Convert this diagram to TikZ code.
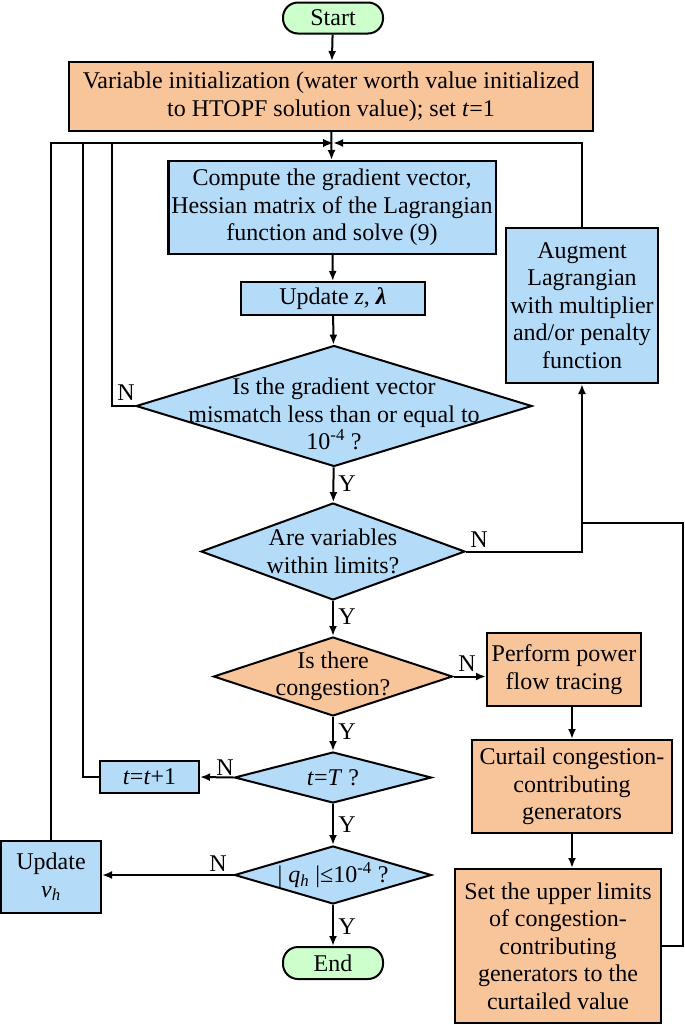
\documentclass[tikz,border=0pt]{standalone}
\usepackage{fontspec}
\setmainfont{Liberation Serif}
\usetikzlibrary{arrows.meta,shapes.geometric}
\definecolor{initorange}{RGB}{248,196,154}
\definecolor{stepblue}{RGB}{180,220,248}
\definecolor{termgreen}{RGB}{204,255,204}
\tikzset{
  every node/.style={font=\fontsize{24bp}{27.5bp}\selectfont},
  proc/.style={draw, line width=2bp, fill=stepblue, align=center, inner sep=0pt},
  term/.style={draw, line width=2bp, fill=termgreen, rounded corners=15bp, inner sep=0pt},
  decide/.style={diamond, draw, line width=2bp, fill=stepblue, inner sep=0pt},
  flow/.style={line width=2bp, -{Latex[length=10bp,width=8bp]}},
  wire/.style={line width=2bp},
  yn/.style={inner sep=0pt}
}
\begin{document}
\begin{tikzpicture}[x=1bp, y=-1bp]
\useasboundingbox (0,0) rectangle (685,1025);
% main column
\node[term, minimum width=100bp, minimum height=31bp] (start) at (333,18) {Start};
\node[proc, fill=initorange, minimum width=524bp, minimum height=69bp] (init) at (331,96.5)
  {Variable initialization (water worth value initialized\\to HTOPF solution value); set \textit{t}=1};
\node[proc, minimum width=327bp, minimum height=93bp] (compute) at (332,207.5)
  {Compute the gradient vector,\\Hessian matrix of the Lagrangian\\function and solve (9)};
\node[proc, minimum width=184bp, minimum height=33bp] (updz) at (333,298.5) {Update \textit{z}, \textbf{\textit{λ}}};
\node[decide, minimum width=396bp, minimum height=121bp,
  label={[align=center, yshift=-8bp]center:Is the gradient vector\\mismatch less than or equal to\\10\textsuperscript{-4} ?}] (gradchk) at (334,406) {};
\node[decide, minimum width=264bp, minimum height=97bp,
  label={[align=center]center:Are variables\\within limits?}] (limchk) at (333,551.5) {};
\node[decide, fill=initorange, minimum width=239bp, minimum height=79bp,
  label={[align=center]center:Is there\\congestion?}] (congchk) at (333,676.5) {};
\node[decide, minimum width=197bp, minimum height=51bp,
  label={center:\textit{t}=\textit{T} ?}] (tchk) at (333,777.5) {};
\node[decide, minimum width=197bp, minimum height=58bp,
  label={center:| \textit{q}\textsubscript{\textit{h}} |≤10\textsuperscript{-4} ?}] (qchk) at (333,875) {};
\node[term, minimum width=100bp, minimum height=32bp] (endn) at (333,963) {End};
% side boxes
\node[proc, minimum width=152bp, minimum height=155bp] (augment) at (582,305.5)
  {Augment\\Lagrangian\\with multiplier\\and/or penalty\\function};
\node[proc, fill=initorange, minimum width=154bp, minimum height=73bp] (perform) at (564,669.5)
  {Perform power\\flow tracing};
\node[proc, fill=initorange, minimum width=200bp, minimum height=93bp] (curtail) at (572,786.5)
  {Curtail congestion-\\contributing\\generators};
\node[proc, fill=initorange, minimum width=206bp, minimum height=154bp] (setlim) at (558,946)
  {Set the upper limits\\of congestion-\\contributing\\generators to the\\curtailed value};
\node[proc, minimum width=99bp, minimum height=32bp] (tinc) at (149.5,777) {\textit{t}=\textit{t}+1};
\node[proc, minimum width=100bp, minimum height=72bp] (updv) at (51,877)
  {Update\\\textit{v}\textsubscript{\textit{h}}};
% joints
\coordinate (join) at (333,143);
\coordinate (loopa) at (112,143);
\coordinate (loopb) at (83,143);
\coordinate (rtop) at (683,523);
\coordinate (rjoin) at (582,523);
% main flow
\draw[flow] (start) -- (init);
\draw[flow] (init) -- (compute);
\draw[flow] (compute) -- (updz);
\draw[flow] (updz) -- (gradchk);
\draw[flow] (gradchk) -- (limchk);
\draw[flow] (limchk) -- (congchk);
\draw[flow] (congchk) -- (tchk);
\draw[flow] (tchk) -- (qchk);
\draw[flow] (qchk) -- (endn);
% congestion branch
\draw[flow] (congchk.east) -- (congchk.east -| perform.west);
\draw[flow] (curtail.north |- perform.south) -- (curtail.north);
\draw[flow] (curtail.south) -- (curtail.south |- setlim.north);
\draw[wire] (setlim.east) -| (rtop) -- (rjoin);
\draw[flow] (limchk.east) -| (augment.south);
% loops back
\draw[flow] (augment.north) |- (join);
\draw[flow] (gradchk.west) -| (loopa) -- (join);
\draw[flow] (tchk.west) -- (tinc.east);
\draw[flow] (tinc.west) -| (loopb) -- (join);
\draw[flow] (qchk.west) -- (qchk.west -| updv.east);
\draw[flow] (updv.north) |- (join);
% Y/N labels
\node[yn] (n1) at (126,393) {N};
\node[yn] (y1) at (347,484) {Y};
\node[yn] (n2) at (479,540) {N};
\node[yn] (y2) at (347,617) {Y};
\node[yn] (n3) at (467,664) {N};
\node[yn] (y3) at (347,732) {Y};
\node[yn] (n4) at (225,768) {N};
\node[yn] (y4) at (347,825) {Y};
\node[yn] (n5) at (218,864) {N};
\node[yn] (y5) at (347,927) {Y};
\end{tikzpicture}
\end{document}
